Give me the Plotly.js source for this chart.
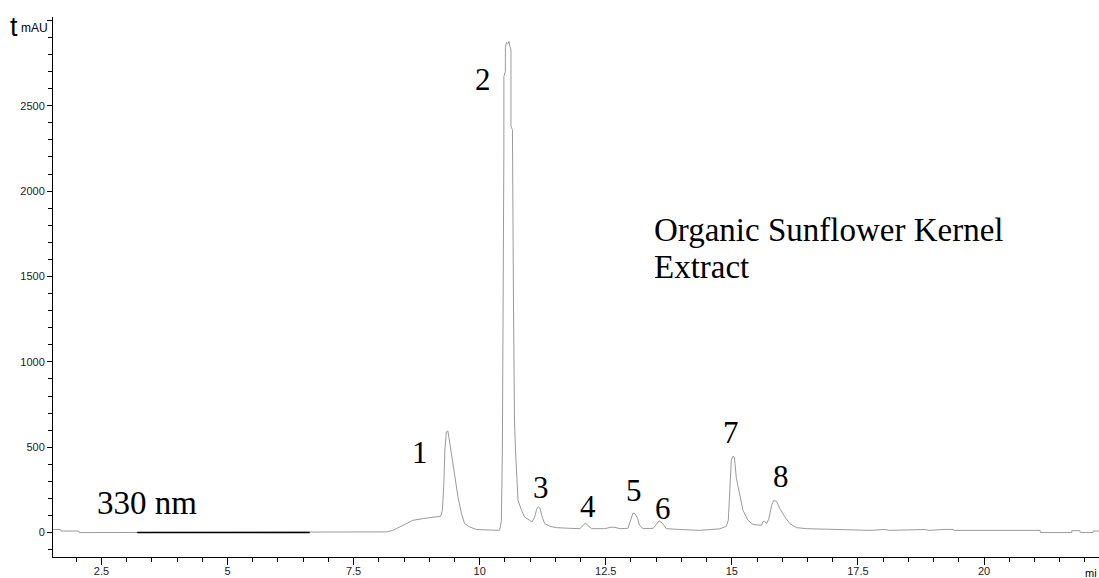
<!DOCTYPE html>
<html>
<head>
<meta charset="utf-8">
<script src="https://cdn.plot.ly/plotly-3.0.1.min.js"></script>
<style>html,body{margin:0;padding:0;background:#fff;}#chart{width:1099px;height:578px;}</style>
</head>
<body>
<div id="chart"></div>
<script>
// Retention time (min) and detector signal (mAU)
const timeMin = [1.54,1.69,1.70,2.05,2.06,3.21,6.63,8.02,8.15,8.28,8.42,8.55,8.68,8.88,9.08,9.23,9.26,9.29,9.31,9.34,9.37,9.39,9.44,9.51,9.57,9.64,9.70,9.80,9.94,10.20,10.39,10.41,
  10.43,10.45,10.47,10.48,10.48,10.51,10.51,10.53,10.56,10.58,10.60,10.62,10.62,10.65,10.67,10.69,10.71,10.73,10.76,10.83,10.89,10.99,11.04,11.09,11.13,11.16,11.19,11.25,11.29,11.39,11.52,11.79,11.99,
  12.03,12.10,12.15,12.22,12.48,12.60,12.68,12.78,12.94,13.00,13.04,13.08,13.13,13.17,13.24,13.44,13.51,13.56,13.63,13.70,13.97,14.36,14.76,14.89,14.93,14.96,14.99,15.02,15.05,15.09,15.16,15.22,15.32,15.42,
  15.59,15.62,15.65,15.69,15.73,15.79,15.83,15.89,15.95,16.05,16.15,16.28,16.48,17.14,17.74,18.03,18.13,18.83,18.91,19.26,19.39,19.40,21.11,21.12,21.74,21.74,21.90,21.91,22.16,22.17,22.30];
const signalMAU = [18,18,9,9,0,0,1,1,4,13,33,53,72,82,88,96,131,287,483,590,596,561,463,326,209,111,53,33,18,13,13,33,
  72,483,1362,2242,2671,2701,2841,2871,2865,2877,2847,2829,2379,2360,1362,659,483,336,189,131,91,72,62,91,137,151,145,82,53,37,29,25,23,
  37,56,40,23,23,31,31,23,25,72,115,110,84,43,23,25,49,69,53,23,18,13,22,37,72,248,424,447,442,318,209,131,72,47,
  43,66,66,53,78,160,188,182,141,92,53,29,23,18,13,18,13,18,13,19,18,13,13,0,0,11,11,0,0,9,9];
// Dark baseline segment
const darkTime = [3.21, 6.63];
const darkSignal = [0, 0];
// Peak numbers and where they are written
const peakLabels = ["1","2","3","4","5","6","7","8"];
const labelTime = [8.81,10.06,11.21,12.14,13.06,13.63,14.98,15.97];
const labelSignal = [471,2653,266,154,248,143,588,330];
const yTickVals = [0,500,1000,1500,2000,2500,3000];
const yTickText = ["0","500","1000","1500","2000","2500",""];

const serif = "Liberation Serif, Times New Roman, serif";
const sans = "Liberation Sans, Arial, sans-serif";

const traces = [
  {x: timeMin, y: signalMAU, type: 'scatter', mode: 'lines', line: {color: '#9a9a9a', width: 1}, hoverinfo: 'none'},
  {x: darkTime, y: darkSignal, type: 'scatter', mode: 'lines', line: {color: '#000', width: 1.5}, hoverinfo: 'none'}
];

const annotations = peakLabels.map((t, i) => ({
  x: labelTime[i], y: labelSignal[i], xref: 'x', yref: 'y', text: t, showarrow: false,
  font: {family: serif, size: 31, color: '#000'}, xanchor: 'center', yanchor: 'middle'
}));
annotations.push(
  {x: 3.41, y: 172, xref: 'x', yref: 'y', text: '330 nm', showarrow: false, font: {family: serif, size: 33, color: '#000'}, xanchor: 'center', yanchor: 'middle'},
  {x: 13.41, y: 1773, xref: 'x', yref: 'y', text: 'Organic Sunflower Kernel', showarrow: false, font: {family: serif, size: 33, color: '#000'}, xanchor: 'left', yanchor: 'middle'},
  {x: 13.41, y: 1554, xref: 'x', yref: 'y', text: 'Extract', showarrow: false, font: {family: serif, size: 33, color: '#000'}, xanchor: 'left', yanchor: 'middle'},
  {x: -0.0375, y: 0.981, xref: 'paper', yref: 'paper', text: 't', showarrow: false, font: {family: sans, size: 27, color: '#000'}, xanchor: 'center', yanchor: 'middle'},
  {x: -0.0178, y: 0.979, xref: 'paper', yref: 'paper', text: 'mAU', showarrow: false, font: {family: sans, size: 12, color: '#000'}, xanchor: 'center', yanchor: 'middle'},
  {x: 1, y: -0.0296, xref: 'paper', yref: 'paper', text: 'mi', showarrow: false, font: {family: sans, size: 11, color: '#000'}, xanchor: 'right', yanchor: 'middle'}
);

const layout = {
  width: 1099, height: 578,
  margin: {l: 53, r: 0, t: 17, b: 21, pad: 0},
  paper_bgcolor: '#fff', plot_bgcolor: '#fff',
  showlegend: false,
  xaxis: {
    range: [1.54, 22.28], showline: true, linecolor: '#000', linewidth: 1, mirror: false,
    ticks: 'outside', ticklen: 7, tickwidth: 1, tickcolor: '#000', tickmode: 'linear', tick0: 0, dtick: 2.5,
    ticklabelstandoff: -3,
    minor: {ticks: 'outside', ticklen: 4, tickwidth: 1, tickcolor: '#000', tickmode: 'linear', tick0: 0, dtick: 0.5},
    showgrid: false, zeroline: false, tickfont: {family: sans, size: 11, color: '#222'}
  },
  yaxis: {
    range: [-143, 3020], showline: true, linecolor: '#000', linewidth: 1,
    ticks: 'outside', ticklen: 5, tickwidth: 1, tickcolor: '#000', tickmode: 'array', tickvals: yTickVals, ticktext: yTickText,
    minor: {ticks: 'outside', ticklen: 4, tickwidth: 1, tickcolor: '#000', tickmode: 'linear', tick0: 0, dtick: 100},
    showgrid: false, zeroline: false, tickfont: {family: sans, size: 11, color: '#222'}
  },
  annotations: annotations
};

Plotly.newPlot('chart', traces, layout, {staticPlot: true, displayModeBar: false});
</script>
</body>
</html>
